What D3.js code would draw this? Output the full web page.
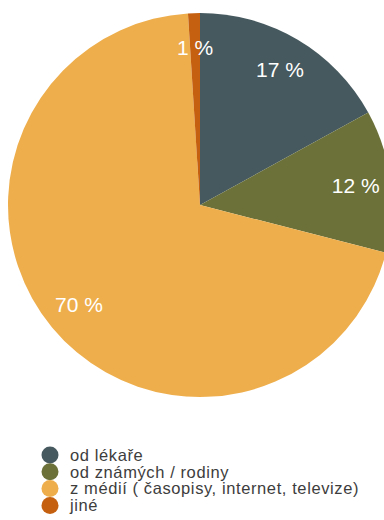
<!DOCTYPE html>
<html>
<head>
<meta charset="utf-8">
<script src="https://cdn.jsdelivr.net/npm/d3@7"></script>
<style>
  html, body { margin: 0; padding: 0; background: #fff; overflow: hidden; }
  svg { display: block; }
</style>
</head>
<body>
<svg id="chart" width="384" height="520"></svg>
<script>
// Where respondents get their information
const categories = ["od lékaře", "od známých / rodiny", "z médií ( časopisy, internet, televize)", "jiné"];
const values = [17, 12, 70, 1];
const labels = ["17 %", "12 %", "70 %", "1 %"];
const colors = ["#46595e", "#6b7139", "#eeae4c", "#c4600f"];

const svg = d3.select("#chart");
const cx = 200, cy = 205, radius = 192;

const pie = d3.pie().sort(null).value(d => d)(values);
const arc = d3.arc().innerRadius(0).outerRadius(radius);
const labelArc = d3.arc().innerRadius(157).outerRadius(157);

const g = svg.append("g").attr("transform", `translate(${cx},${cy})`);

g.selectAll("path")
  .data(pie)
  .join("path")
  .attr("d", arc)
  .attr("fill", (d, i) => colors[i]);

g.selectAll("text")
  .data(pie)
  .join("text")
  .attr("transform", d => `translate(${labelArc.centroid(d)})`)
  .attr("text-anchor", "middle")
  .attr("dy", "0.35em")
  .attr("fill", "#ffffff")
  .attr("font-family", "Liberation Sans, Arial, sans-serif")
  .attr("font-size", 21)
  .text((d, i) => labels[i]);

// Legend
const legend = svg.append("g").attr("transform", "translate(50,455)");
const rows = legend.selectAll("g")
  .data(categories)
  .join("g")
  .attr("transform", (d, i) => `translate(0,${i * 16.8})`);

rows.append("circle")
  .attr("r", 8.5)
  .attr("fill", (d, i) => colors[i]);

rows.append("text")
  .attr("x", 20)
  .attr("dy", "0.35em")
  .attr("fill", "#3d3d3d")
  .attr("font-family", "Liberation Sans, Arial, sans-serif")
  .attr("font-size", 16.5)
  .attr("letter-spacing", 0.6)
  .text(d => d);
</script>
</body>
</html>
